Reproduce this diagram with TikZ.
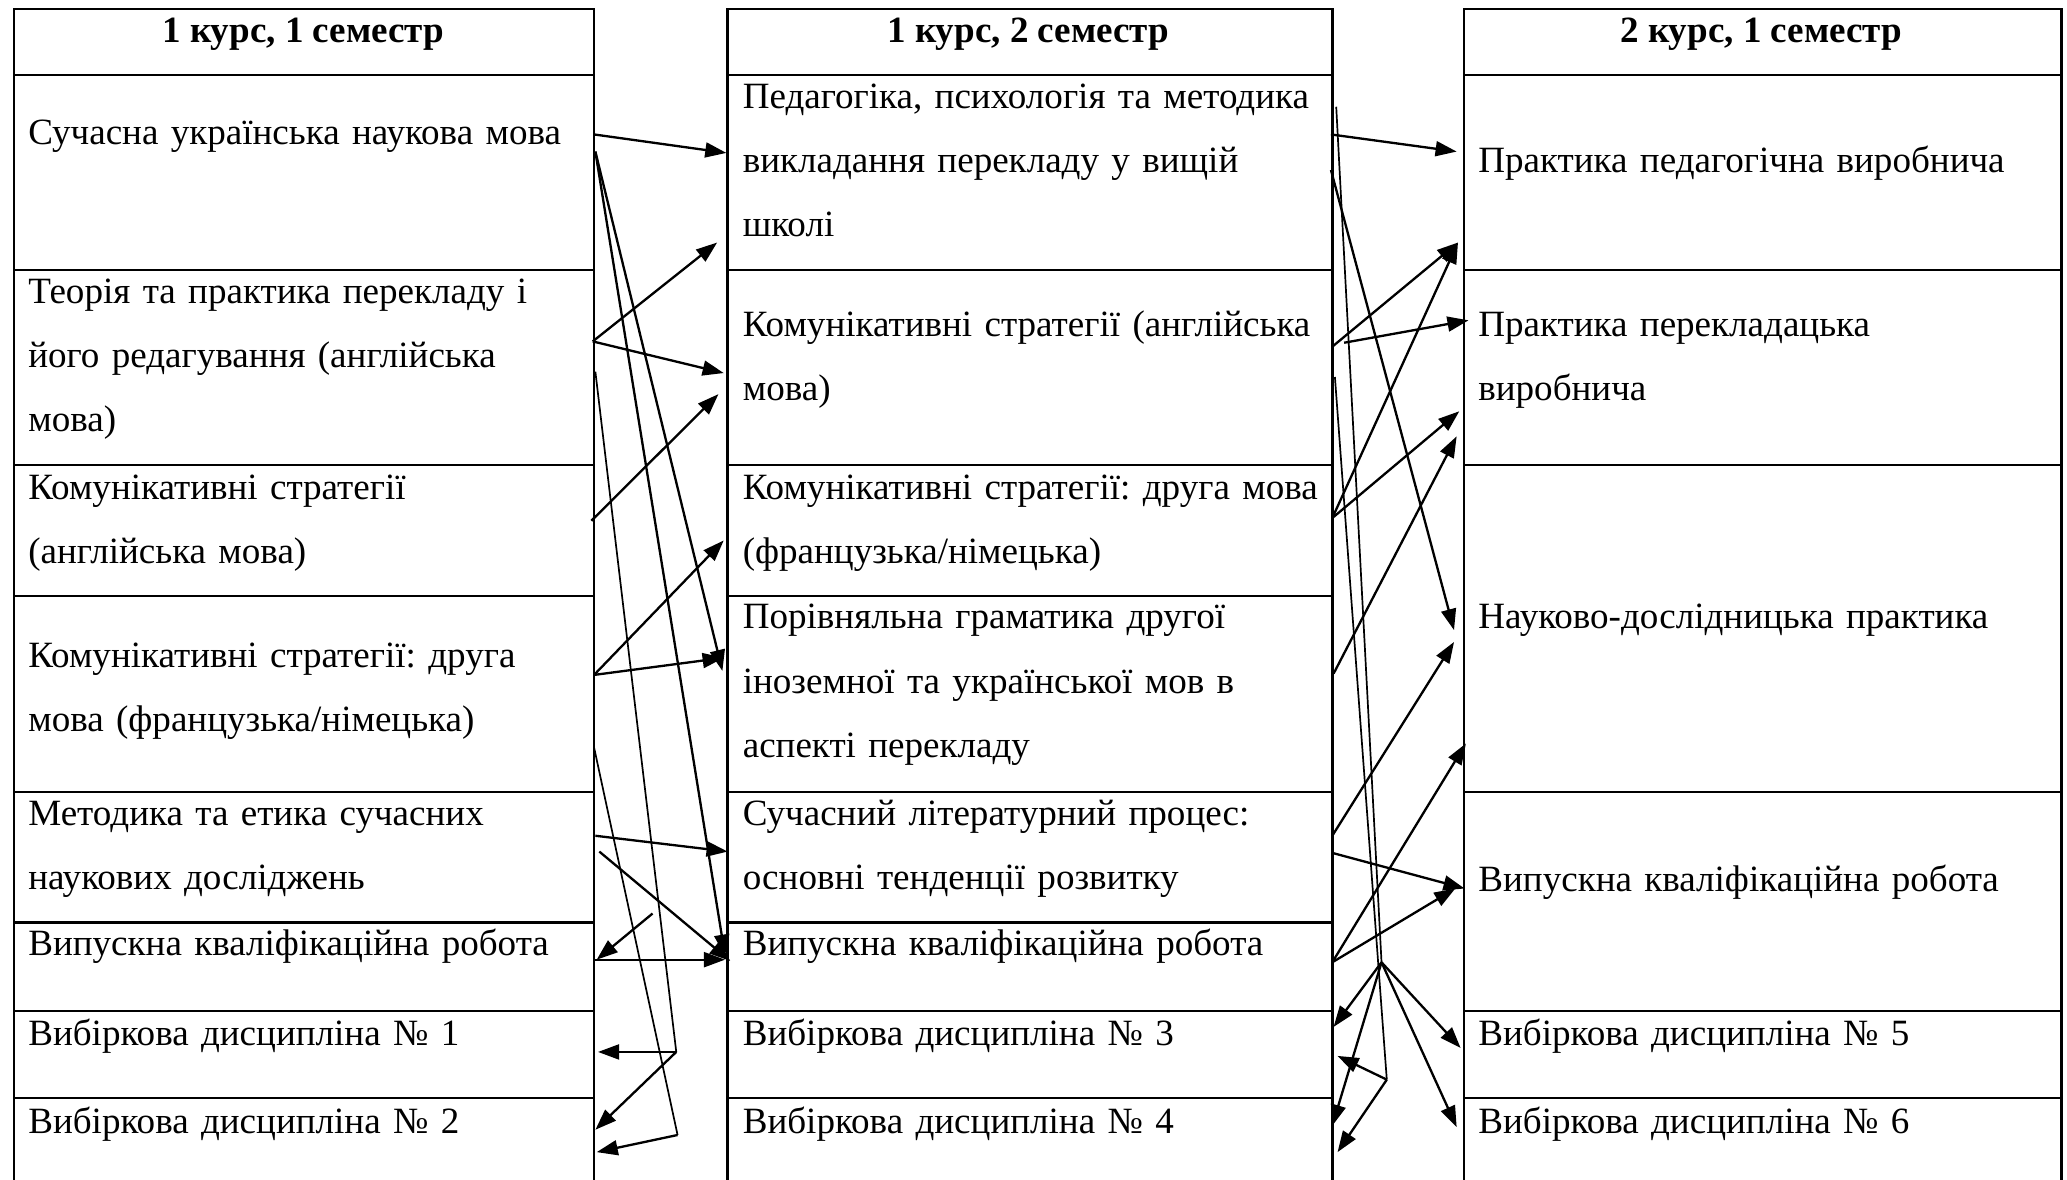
\documentclass[tikz,border=0pt]{standalone}
\usepackage{fontspec}
\setmainfont{Liberation Serif}
\usetikzlibrary{arrows.meta,calc}

\tikzset{
  cell/.style 2 args={draw, line width=0.7pt, rectangle, anchor=north west, inner sep=0pt,
    minimum width=#1*0.15mm, minimum height=#2*0.15mm},
  celltext/.style={anchor=base west, inner sep=0pt, text width=80mm, align=left,
    font=\fontsize{12}{20.8}\selectfont\frenchspacing},
  headtext/.style={anchor=base, inner sep=0pt, font=\fontsize{12}{14}\selectfont\bfseries},
  link/.style={line width=0.75pt, -{Triangle[length=2.4mm,width=1.7mm]}},
  trace/.style={line width=0.55pt},
}

\begin{document}
\begin{tikzpicture}[x=0.15mm, y=-0.15mm]
  \useasboundingbox (0,0) rectangle (1568,895);

  % headers
  \node[cell={440}{50}] (hl) at (10,6) {};
  \node[cell={459}{50}] (hm) at (551,6) {};
  \node[cell={453}{50}] (hr) at (1110,6) {};
  \node[headtext] (thl) at (230,32) {1 курс, 1 семестр};
  \node[headtext] (thm) at (780,32) {1 курс, 2 семестр};
  \node[headtext] (thr) at (1336,32) {2 курс, 1 семестр};

  % first column
  \node[cell={440}{148}] (l1) at (10,56) {};
  \node[cell={440}{148}] (l2) at (10,204) {};
  \node[cell={440}{99}] (l3) at (10,352) {};
  \node[cell={440}{149}] (l4) at (10,451) {};
  \node[cell={440}{99}] (l5) at (10,600) {};
  \node[cell={440}{67}] (l6) at (10,699) {};
  \node[cell={440}{66}] (l7) at (10,766) {};
  \node[cell={440}{70}] (l8) at (10,832) {};
  \node[celltext] (tl1) at (21,110) {Сучасна українська наукова мова};
  \node[celltext] (tl2) at (21,230) {Теорія та практика перекладу і\\його редагування (англійська\\мова)};
  \node[celltext] (tl3) at (21,379) {Комунікативні стратегії\\(англійська мова)};
  \node[celltext] (tl4) at (21,506) {Комунікативні стратегії: друга\\мова (французька/німецька)};
  \node[celltext] (tl5) at (21,626) {Методика та етика сучасних\\наукових досліджень};
  \node[celltext] (tl6) at (21,725) {Випускна кваліфікаційна робота};
  \node[celltext] (tl7) at (21,793) {Вибіркова дисципліна № 1};
  \node[celltext] (tl8) at (21,860) {Вибіркова дисципліна № 2};

  % second column
  \node[cell={459}{148}] (m1) at (551,56) {};
  \node[cell={459}{148}] (m2) at (551,204) {};
  \node[cell={459}{99}] (m3) at (551,352) {};
  \node[cell={459}{149}] (m4) at (551,451) {};
  \node[cell={459}{99}] (m5) at (551,600) {};
  \node[cell={459}{67}] (m6) at (551,699) {};
  \node[cell={459}{66}] (m7) at (551,766) {};
  \node[cell={459}{70}] (m8) at (551,832) {};
  \node[celltext] (tm1) at (563,82) {Педагогіка, психологія та методика\\викладання перекладу у вищій\\школі};
  \node[celltext] (tm2) at (563,255) {Комунікативні стратегії (англійська\\мова)};
  \node[celltext] (tm3) at (563,379) {Комунікативні стратегії: друга мова\\(французька/німецька)};
  \node[celltext] (tm4) at (563,477) {Порівняльна граматика другої\\іноземної та української мов в\\аспекті перекладу};
  \node[celltext] (tm5) at (563,626) {Сучасний літературний процес:\\основні тенденції розвитку};
  \node[celltext] (tm6) at (563,725) {Випускна кваліфікаційна робота};
  \node[celltext] (tm7) at (563,793) {Вибіркова дисципліна № 3};
  \node[celltext] (tm8) at (563,860) {Вибіркова дисципліна № 4};

  % third column
  \node[cell={453}{148}] (r1) at (1110,56) {};
  \node[cell={453}{148}] (r2) at (1110,204) {};
  \node[cell={453}{248}] (r3) at (1110,352) {};
  \node[cell={453}{166}] (r4) at (1110,600) {};
  \node[cell={453}{66}] (r5) at (1110,766) {};
  \node[cell={453}{70}] (r6) at (1110,832) {};
  \node[celltext] (tr1) at (1121,131) {Практика педагогічна виробнича};
  \node[celltext] (tr2) at (1121,255) {Практика перекладацька\\виробнича};
  \node[celltext] (tr3) at (1121,477) {Науково-дослідницька практика};
  \node[celltext] (tr4) at (1121,676) {Випускна кваліфікаційна робота};
  \node[celltext] (tr5) at (1121,793) {Вибіркова дисципліна № 5};
  \node[celltext] (tr6) at (1121,860) {Вибіркова дисципліна № 6};

  % bend points
  \coordinate (j1) at (513,798);
  \coordinate (j2) at (514,861);
  \coordinate (k1) at (495,693);
  \coordinate (j3) at (1048,730);
  \coordinate (j4) at (1052,819);

  % links, first semester -> second semester
  \draw[link] ($(l1.north east)+(-1,46)$) -- ($(m1.north west)+(0,60)$);
  \draw[link] ($(l1.north east)+(0,59)$) -- ($(m6.north west)+(-1,26)$);
  \draw[link] ($(l1.north east)+(0,59)$) -- ($(m4.north west)+(-3,58)$);
  \draw[link] ($(l2.north east)+(-2,55)$) -- ($(m1.north west)+(-7,128)$);
  \draw[link] ($(l2.north east)+(-2,55)$) -- ($(m2.north west)+(-2,79)$);
  \draw[trace] ($(l2.north east)+(0,78)$) -- (j1);
  \draw[link] (j1) -- ($(l7.north east)+(2,32)$);
  \draw[link] (j1) -- ($(l8.north east)+(0,25)$);
  \draw[link] ($(l3.north east)+(-3,43)$) -- ($(m2.north west)+(-6,95)$);
  \draw[link] ($(l4.north east)+(-1,61)$) -- ($(m3.north west)+(-2,58)$);
  \draw[link] ($(l4.north east)+(-1,61)$) -- ($(m4.north west)+(-2,48)$);
  \draw[trace] ($(l4.north east)+(-1,116)$) -- (j2);
  \draw[link] (j2) -- ($(l8.north east)+(1,42)$);
  \draw[link] ($(l5.north east)+(0,34)$) -- ($(m5.north west)+(1,46)$);
  \draw[link] ($(l5.north east)+(3,46)$) -- ($(m6.north west)+(3,30)$);
  \draw[link] (k1) -- ($(l6.north east)+(1,29)$);
  \draw[link] ($(l6.north east)+(0,29)$) -- ($(m6.north west)+(-1,29)$);

  % links, second semester -> third semester
  \draw[link] ($(m1.north east)+(-2,46)$) -- ($(r1.north west)+(-5,59)$);
  \draw[trace] ($(m1.north east)+(2,25)$) -- (j3);
  \draw[link] (j3) -- ($(m7.north east)+(0,13)$);
  \draw[link] (j3) -- ($(m8.north east)+(-1,22)$);
  \draw[link] (j3) -- ($(r5.north west)+(-2,29)$);
  \draw[link] (j3) -- ($(r6.north west)+(-5,23)$);
  \draw[link] ($(m1.north east)+(-2,73)$) -- ($(r3.north west)+(-7,126)$);
  \draw[link] ($(m2.north east)+(-1,59)$) -- ($(r1.north west)+(-4,128)$);
  \draw[link] ($(m2.north east)+(8,56)$) -- ($(r2.north west)+(4,39)$);
  \draw[trace] ($(m2.north east)+(1,82)$) -- (j4);
  \draw[link] (j4) -- ($(m7.north east)+(3,35)$);
  \draw[link] (j4) -- ($(m8.north east)+(3,42)$);
  \draw[link] ($(m3.north east)+(-1,41)$) -- ($(r1.north west)+(-4,128)$);
  \draw[link] ($(m3.north east)+(-1,41)$) -- ($(r2.north west)+(-3,108)$);
  \draw[link] ($(m4.north east)+(0,60)$) -- ($(r2.north west)+(-5,127)$);
  \draw[link] ($(m5.north east)+(-1,34)$) -- ($(r3.north west)+(-7,135)$);
  \draw[link] ($(m6.north east)+(-1,31)$) -- ($(r3.north west)+(2,212)$);
  \draw[link] ($(m5.north east)+(-1,47)$) -- ($(r4.north west)+(1,74)$);
  \draw[link] ($(m6.north east)+(-1,31)$) -- ($(r4.north west)+(-6,74)$);
\end{tikzpicture}
\end{document}
